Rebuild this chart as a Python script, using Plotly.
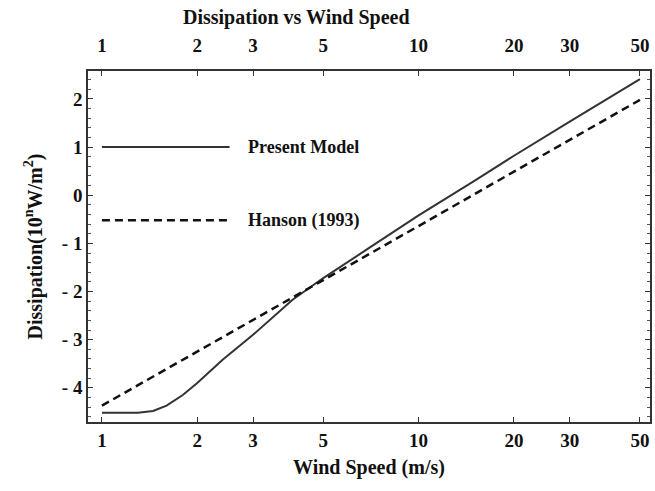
import math
import plotly.graph_objects as go

# Wind speed (m/s) and dissipation (log10, 10^n W/m^2)
wind_model = [1, 1.3, 1.45, 1.6, 1.8, 2, 2.4, 3, 4, 5, 7, 10, 15, 20, 30, 50]
diss_model = [-4.52, -4.52, -4.48, -4.37, -4.15, -3.90, -3.42, -2.90, -2.17,
              -1.72, -1.09, -0.42, 0.30, 0.82, 1.53, 2.41]

wind_hanson = [1, 2, 4, 10, 20, 50]
diss_hanson = [-4.37, -3.25, -2.12, -0.64, 0.49, 1.98]

x_ticks = [1, 2, 3, 5, 10, 20, 30, 50]
y_ticks = [-4, -3, -2, -1, 0, 1, 2]
y_ticktext = ["- 4", "- 3", "- 2", "- 1", "0", "1", "2"]

legend_names = ["Present Model", "Hanson (1993)"]
legend_y = [1.0, -0.52]
legend_x = [1, 2.53]
legend_text_x = 2.85

FONT = "Liberation Serif"
INK = "#111111"

fig = go.Figure()

model_style = dict(color="#333333", width=2)
hanson_style = dict(color="#111111", width=2.5, dash="8px,5px")

fig.add_trace(go.Scatter(x=wind_model, y=diss_model, mode="lines",
                         line=model_style, showlegend=False))
fig.add_trace(go.Scatter(x=wind_hanson, y=diss_hanson, mode="lines",
                         line=hanson_style, showlegend=False))

# In-plot legend: sample lines plus labels
for name, yv, st in zip(legend_names, legend_y, [model_style, hanson_style]):
    fig.add_trace(go.Scatter(x=legend_x, y=[yv, yv], mode="lines", line=st,
                             showlegend=False, hoverinfo="skip"))
    fig.add_annotation(x=math.log10(legend_text_x), y=yv, xref="x", yref="y",
                       text=f"<b>{name}</b>", showarrow=False,
                       xanchor="left", yanchor="middle",
                       font=dict(family=FONT, size=18, color=INK))

xr = [-0.044, 1.7307]
yr = [-4.71, 2.58]
common_x = dict(type="log", range=xr, tickvals=x_ticks,
                ticktext=[f"<b>{v}</b>" for v in x_ticks],
                ticks="inside", ticklen=5, tickwidth=1, tickcolor="#333",
                showline=True, linecolor="#333", linewidth=1.5, showgrid=False,
                zeroline=False,
                tickfont=dict(family=FONT, size=19, color=INK))

fig.update_layout(
    width=655, height=491,
    margin=dict(l=88, r=3, t=71, b=69),
    paper_bgcolor="white", plot_bgcolor="white",
    xaxis=dict(**common_x,
               title=dict(text="<b>Wind Speed (m/s)</b>", standoff=10,
                          font=dict(family=FONT, size=20, color=INK))),
    xaxis2=dict(**common_x, overlaying="x", side="top", matches="x", anchor="y",
                ticklabelstandoff=10),
    yaxis=dict(range=yr, tickvals=y_ticks,
               ticktext=[f"<b>{t}</b>" for t in y_ticktext],
               ticks="inside", ticklen=5, tickcolor="#333", mirror="ticks",
               minor=dict(dtick=0.2, ticks="inside", ticklen=3, tickcolor="#555"),
               showline=True, linecolor="#333", linewidth=1.5, showgrid=False,
               zeroline=False,
               tickfont=dict(family=FONT, size=19, color=INK),
               title=dict(text="<b>Dissipation(10<sup>n</sup>W/m<sup>2</sup>)</b>",
                          standoff=14, font=dict(family=FONT, size=20, color=INK))),
    showlegend=False,
)

# Invisible trace so the top axis is drawn
fig.add_trace(go.Scatter(x=[1], y=[0], xaxis="x2", mode="markers",
                         marker=dict(opacity=0), showlegend=False, hoverinfo="skip"))

fig.add_annotation(x=(297 - 88) / (652 - 88), y=1, xref="paper", yref="paper",
                   yshift=71 - 17, text="<b>Dissipation vs Wind Speed</b>",
                   showarrow=False, xanchor="center", yanchor="middle",
                   font=dict(family=FONT, size=20, color=INK))

fig.write_html("out.html")
